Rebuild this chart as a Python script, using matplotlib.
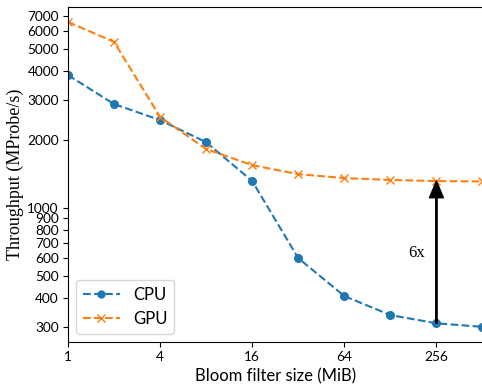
import matplotlib
matplotlib.use("Agg")
import matplotlib.pyplot as plt
from matplotlib.ticker import FixedLocator, FixedFormatter, NullLocator
import numpy as np

sizes = [1, 2, 4, 8, 16, 32, 64, 128, 256, 512]
cpu = [3850, 2870, 2440, 1950, 1315, 602, 410, 338, 311, 300]
gpu = [6600, 5390, 2520, 1820, 1545, 1410, 1355, 1330, 1315, 1310]

xticks = [1, 4, 16, 64, 256]
yticks = [300, 400, 500, 600, 700, 800, 900, 1000, 2000, 3000, 4000, 5000, 6000, 7000]

plt.rcParams["font.family"] = ["Lato", "DejaVu Sans"]

fig = plt.figure(figsize=(4.82, 3.87), dpi=100)
ax = fig.add_axes([0.141, 0.116, 0.86, 0.866])

ax.plot(sizes, cpu, "--o", color="tab:blue", label="CPU", markersize=5.5)
ax.plot(sizes, gpu, "--x", color="tab:orange", label="GPU", markersize=6)

ax.set_xscale("log", base=2)
ax.set_yscale("log")
ax.set_xlim(1, 512)
ax.set_ylim(257, 7680)

ax.xaxis.set_major_locator(FixedLocator(xticks))
ax.xaxis.set_major_formatter(FixedFormatter([str(t) for t in xticks]))
ax.xaxis.set_minor_locator(NullLocator())
ax.yaxis.set_major_locator(FixedLocator(yticks))
ax.yaxis.set_major_formatter(FixedFormatter([str(t) for t in yticks]))
ax.yaxis.set_minor_locator(NullLocator())
ax.tick_params(labelsize=9.8, pad=3)

ax.spines["right"].set_visible(False)

ax.annotate("", xy=(256, gpu[8]), xytext=(256, cpu[8]),
            arrowprops=dict(facecolor="black", edgecolor="black", width=1, headwidth=10, headlength=12))
ax.text(190, 633, "6x", fontsize=12, family="Liberation Serif", ha="center", va="center")

ax.set_xlabel("Bloom filter size (MiB)", fontsize=12)
ax.set_ylabel("Throughput (MProbe/s)", fontsize=13, family="Liberation Serif")
ax.yaxis.set_label_coords(-0.105, 0.5)
ax.legend(loc="lower left", fontsize=12, handlelength=2.2, markerscale=0.9)

fig.savefig("out.png", dpi=100)
